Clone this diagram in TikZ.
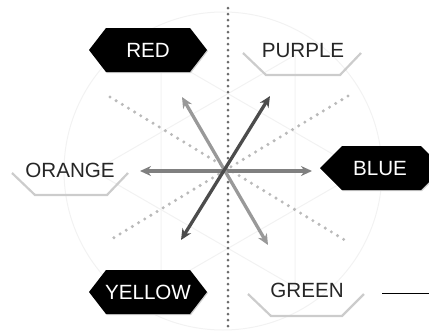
\documentclass[tikz,border=0pt]{standalone}
\usepackage{fontspec}
\setmainfont{Liberation Sans}
\usetikzlibrary{arrows.meta}
\begin{document}
\begin{tikzpicture}[x=1pt,y=-1pt,
  lbl/.style={font=\fontsize{20.6}{24}\selectfont, inner sep=0pt, text height=15pt, text depth=0pt, anchor=center},
  whitelbl/.style={lbl, text=white},
  darklbl/.style={lbl, text=black!85},
  blackhex/.style={fill=black},
  hexshadow/.style={fill=black!18},
  openhex/.style={draw=black!20, line width=2.2pt, line join=miter},
  faint/.style={draw=black!5, line width=1pt},
  dotline/.style={draw=black!27, line width=3.4pt, line cap=round, dash pattern=on 0pt off 7.2pt},
  axisdots/.style={draw=black!58, line width=3pt, line cap=round, dash pattern=on 0pt off 6pt},
  arr/.style={line width=3.3pt, {Stealth[length=11pt,width=10pt]}-{Stealth[length=11pt,width=10pt]}},
  thinline/.style={draw=black, line width=0.8pt}
]
\useasboundingbox (0,0) rectangle (429,333);

% faint background circle and star
\draw[faint] (223,171) circle (159);
\draw[faint] (362,171) -- (161,55) -- (161,287) -- cycle;
\draw[faint] (94,171) -- (295,55) -- (295,287) -- cycle;

% coordinates
\coordinate (c) at (226,170);
\coordinate (dNW) at (110,97);
\coordinate (dSE) at (348,242);
\coordinate (dNE) at (348,96);
\coordinate (dSW) at (110,240);
\coordinate (vT) at (228,8);
\coordinate (vB) at (228,331);
\coordinate (hL) at (140,171);
\coordinate (hR) at (312,171);
\coordinate (lNW) at (182,97);
\coordinate (lSE) at (268,245);
\coordinate (kNE) at (270,96);
\coordinate (kSW) at (181,240);

% dotted guide lines
\draw[dotline] (dNW) -- (dSE);
\draw[dotline] (dNE) -- (dSW);
\draw[axisdots] (vT) -- (vB);

% arrows
\draw[arr, draw=black!50, fill=black!50] (hL) -- (hR);
\draw[arr, draw=black!40, fill=black!40] (lNW) -- (lSE);
\draw[arr, draw=black!70, fill=black!70] (kNE) -- (kSW);

% black hexagons
\begin{scope}[shift={(149,51)}]
  \fill[hexshadow] (-59,0) -- (-42,-22) -- (42,-22) -- (59,0) -- (42,22) -- (-42,22) -- cycle;
\end{scope}
\begin{scope}[shift={(148,50)}]
  \fill[blackhex] (-59,0) -- (-42,-22) -- (42,-22) -- (59,0) -- (42,22) -- (-42,22) -- cycle;
\end{scope}
\begin{scope}[shift={(149,293)}]
  \fill[hexshadow] (-59,0) -- (-42,-22) -- (42,-22) -- (59,0) -- (42,22) -- (-42,22) -- cycle;
\end{scope}
\begin{scope}[shift={(148,292)}]
  \fill[blackhex] (-59,0) -- (-42,-22) -- (42,-22) -- (59,0) -- (42,22) -- (-42,22) -- cycle;
\end{scope}
\begin{scope}[shift={(382,169)}]
  \fill[hexshadow] (-61,0) -- (-39,-22) -- (40,-22) -- (62,0) -- (40,22) -- (-39,22) -- cycle;
\end{scope}
\begin{scope}[shift={(381,168)}]
  \fill[blackhex] (-61,0) -- (-39,-22) -- (40,-22) -- (62,0) -- (40,22) -- (-39,22) -- cycle;
\end{scope}

% open hexagons
\draw[openhex] (243,53) -- (266,75) -- (340,75) -- (361,53);
\draw[openhex] (12,173) -- (35,195) -- (107,195) -- (128,173);
\draw[openhex] (248,294) -- (271,316) -- (342,316) -- (364,294);

% labels
\node[whitelbl] (red) at (148,50) {RED};
\node[darklbl] (purple) at (303,50) {PURPLE};
\node[darklbl] (orange) at (70,170) {ORANGE};
\node[whitelbl] (blue) at (380,168) {BLUE};
\node[whitelbl] (yellow) at (148,292) {YELLOW};
\node[darklbl] (green) at (307,290) {GREEN};

% line at right of GREEN
\coordinate (lineEnd) at (429,293);
\draw[thinline] (382,293) -- (lineEnd);
\end{tikzpicture}
\end{document}
